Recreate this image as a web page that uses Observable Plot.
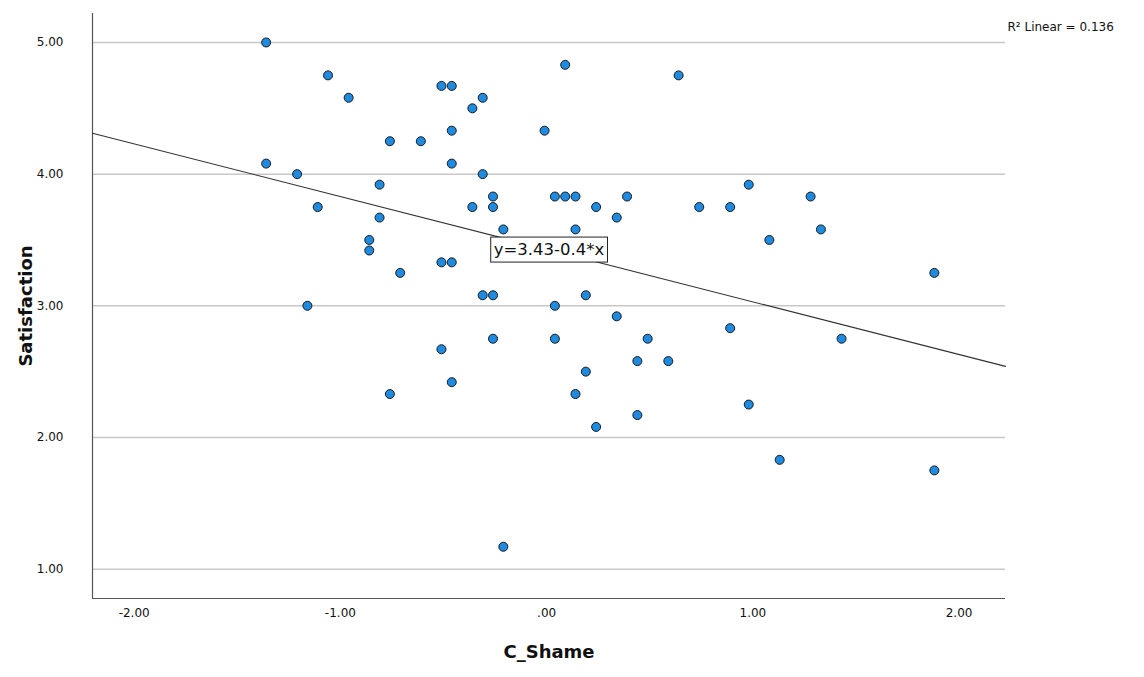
<!DOCTYPE html>
<html>
<head>
<meta charset="utf-8">
<script src="https://cdn.jsdelivr.net/npm/d3@7"></script>
<script src="https://cdn.jsdelivr.net/npm/@observablehq/plot@0.6"></script>
<style>
  html, body { margin: 0; padding: 0; background: #fff; }
  #chart svg { display: block; }
</style>
</head>
<body>
<div id="chart"></div>
<script>
// C_Shame (x) values
const shame = [
  -1.36, -1.06, -0.96, -0.51, -0.46, -0.31, -0.36, 0.09, 0.64, -0.46,
  -0.76, -0.61, -0.01, -1.36, -0.46, -1.21, -0.31, -0.81, 0.98, -1.11,
  -0.36, -0.26, -0.26, 0.04, 0.09, 0.14, 0.39, 0.24, 0.74, 0.89,
  1.28, 0.34, -0.81, -0.21, 0.14, 1.33, -0.86, 1.08, -0.86, -0.51,
  -0.46, -0.71, 1.88, -0.31, -0.26, 0.19, -1.16, 0.04, 0.34, 0.89,
  -0.26, 0.04, 0.49, 1.43, -0.51, 0.44, 0.59, 0.19, -0.46, -0.76,
  0.14, 0.98, 0.44, 0.24, 1.13, 1.88, -0.21
];
// Satisfaction (y) values
const satisfaction = [
  5.00, 4.75, 4.58, 4.67, 4.67, 4.58, 4.50, 4.83, 4.75, 4.33,
  4.25, 4.25, 4.33, 4.08, 4.08, 4.00, 4.00, 3.92, 3.92, 3.75,
  3.75, 3.83, 3.75, 3.83, 3.83, 3.83, 3.83, 3.75, 3.75, 3.75,
  3.83, 3.67, 3.67, 3.58, 3.58, 3.58, 3.50, 3.50, 3.42, 3.33,
  3.33, 3.25, 3.25, 3.08, 3.08, 3.08, 3.00, 3.00, 2.92, 2.83,
  2.75, 2.75, 2.75, 2.75, 2.67, 2.58, 2.58, 2.50, 2.42, 2.33,
  2.33, 2.25, 2.17, 2.08, 1.83, 1.75, 1.17
];
const xTicks = [-2, -1, 0, 1, 2];
const xTickLabels = ["-2.00", "-1.00", ".00", "1.00", "2.00"];
const yTicks = [1, 2, 3, 4, 5];
const yTickLabels = ["1.00", "2.00", "3.00", "4.00", "5.00"];
const xDomain = [-2.202, 2.225];
const yDomain = [0.777, 5.22];
// Fit line coefficients (as labelled in the chart)
const intercept = 3.43;
const slope = -0.4;
const fitLabel = "y=3.43-0.4*x";
const r2Label = "R\u00B2 Linear = 0.136";
const xTitle = "C_Shame";
const yTitle = "Satisfaction";

const points = shame.map((x, i) => ({x, y: satisfaction[i]}));
const fitLine = xDomain.map(x => ({x, y: intercept + slope * x}));
const midX = (xDomain[0] + xDomain[1]) / 2;
const labelPos = [{x: midX, y: intercept + slope * midX, text: fitLabel}];

const font = "'DejaVu Sans', sans-serif";

const plot = Plot.plot({
  width: 1144,
  height: 677,
  marginLeft: 92,
  marginRight: 139,
  marginTop: 13,
  marginBottom: 79,
  style: {fontFamily: font, fontSize: "12px", color: "#111", background: "#fff"},
  x: {domain: xDomain},
  y: {domain: yDomain},
  marks: [
    Plot.ruleY(yTicks, {stroke: "#c8c8c8", strokeWidth: 1.5}),
    Plot.ruleX([xDomain[0]], {stroke: "#555", strokeWidth: 1.2}),
    Plot.ruleY([yDomain[0]], {stroke: "#555", strokeWidth: 1.2}),
    Plot.axisX(xTicks, {tickSize: 0, tickPadding: 10, tickFormat: (d) => xTickLabels[xTicks.indexOf(d)], label: null, fill: "#111"}),
    Plot.axisY(yTicks, {tickSize: 0, tickPadding: 29, tickFormat: (d) => yTickLabels[yTicks.indexOf(d)], label: null, fill: "#111"}),
    Plot.line(fitLine, {x: "x", y: "y", stroke: "#333", strokeWidth: 1.1}),
    Plot.dot(points, {x: "x", y: "y", r: 4.5, fill: "#1e8ae0", stroke: "#1a1a1a", strokeWidth: 1}),
    Plot.text(labelPos, {x: "x", y: "y", text: "text", fontSize: 16.5, fill: "#111", className: "fitlabel"}),
    Plot.text([r2Label], {text: d => d, frameAnchor: "top-right", textAnchor: "start", lineAnchor: "middle", dx: 2, dy: 14, fontSize: 12, fill: "#111"}),
    Plot.text([xTitle], {text: d => d, frameAnchor: "bottom", textAnchor: "middle", lineAnchor: "middle", dy: 54, fontSize: 18, fontWeight: "bold", fill: "#111"}),
    Plot.text([yTitle], {text: d => d, frameAnchor: "left", textAnchor: "middle", lineAnchor: "middle", dx: -66, rotate: -90, fontSize: 18, fontWeight: "bold", fill: "#111"})
  ]
});
document.getElementById("chart").appendChild(plot);

// Draw a bordered white box behind the fit equation label
d3.select(plot).selectAll("g.fitlabel text").each(function() {
  const bb = this.getBBox();
  const padX = 3, padY = 3;
  const tr = this.getAttribute("transform");
  const rect = d3.select(this.parentNode).insert("rect", () => this)
    .attr("x", bb.x - padX).attr("y", bb.y - padY)
    .attr("width", bb.width + 2 * padX).attr("height", bb.height + 2 * padY)
    .attr("fill", "#fff").attr("stroke", "#222").attr("stroke-width", 1);
  if (tr) rect.attr("transform", tr);
});
</script>
</body>
</html>
